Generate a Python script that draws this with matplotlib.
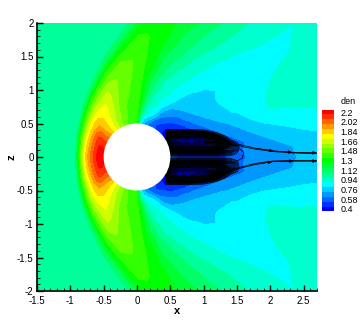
import numpy as np
import matplotlib
matplotlib.use("Agg")
import matplotlib.pyplot as plt
from matplotlib.patches import Circle
from matplotlib.ticker import MultipleLocator

plt.rcParams['font.family'] = ['Liberation Sans', 'DejaVu Sans']
plt.rcParams['axes.unicode_minus'] = False

# density, on rays behind the sphere (upper half; lower half mirrors it)
radius = [.5,.55,.6,.65,.7,.75,.8,.85,.9,.95,1,1.1,1.2,1.35,1.5,1.65,1.8,2,2.25,2.5,2.75,3,3.5]
theta_deg = [0,4,8,12,16,20,25,30,35,40,45,50,55,60,65,70,75,80,85,90]
den = [
 [.6,.56,.53,.51,.5,.49,.48,.48,.48,.49,.49,.5,.51,.535,.59,.63,.65,.675,.7,.725,.74,.76,.78],
 [.58,.55,.52,.5,.49,.48,.47,.47,.47,.47,.48,.49,.51,.54,.6,.64,.66,.68,.705,.735,.76,.78,.8],
 [.56,.52,.49,.47,.45,.44,.44,.44,.44,.44,.44,.46,.48,.52,.58,.63,.67,.715,.75,.78,.805,.83,.85],
 [.53,.48,.45,.42,.4,.4,.4,.4,.4,.41,.41,.42,.44,.57,.645,.69,.725,.77,.805,.84,.86,.88,.9],
 [.5,.46,.42,.4,.4,.4,.4,.4,.4,.4,.42,.49,.575,.66,.69,.73,.78,.825,.85,.875,.9,.93,.94],
 [.46,.42,.4,.4,.4,.4,.4,.4,.41,.43,.48,.57,.625,.68,.73,.77,.825,.885,.91,.93,.94,.95,.95],
 [.41,.4,.4,.4,.4,.4,.41,.43,.445,.53,.57,.63,.675,.74,.79,.82,.85,.88,.91,.925,.93,.94,.95],
 [.42,.4,.4,.41,.42,.43,.445,.5,.56,.6,.625,.675,.725,.765,.805,.83,.85,.875,.89,.91,.93,.94,.95],
 [.42,.4,.41,.425,.445,.48,.52,.55,.59,.63,.67,.72,.75,.785,.815,.83,.845,.86,.87,.88,.89,.915,.94],
 [.43,.42,.43,.46,.5,.52,.55,.59,.64,.67,.705,.74,.76,.78,.8,.815,.84,.855,.865,.875,.885,.89,.92],
 [.46,.44,.445,.47,.51,.545,.58,.62,.665,.7,.725,.755,.775,.795,.815,.83,.85,.875,.9,.925,.945,.96,.96],
 [.49,.47,.5,.53,.56,.59,.63,.66,.695,.725,.74,.77,.795,.83,.855,.875,.895,.92,.955,.975,1.0,1.01,1.01],
 [.52,.5,.53,.565,.6,.64,.67,.7,.73,.77,.8,.825,.85,.88,.9,.93,.955,.99,1.03,1.06,1.08,1.08,1.08],
 [.56,.53,.56,.6,.65,.685,.715,.78,.815,.835,.85,.875,.89,.925,.955,.98,1.01,1.05,1.09,1.11,1.12,1.13,1.13],
 [.58,.58,.62,.7,.76,.805,.825,.85,.865,.885,.9,.925,.945,.97,1.01,1.06,1.09,1.125,1.165,1.18,1.19,1.19,1.19],
 [.6,.64,.715,.8,.84,.875,.905,.92,.935,.945,.955,.97,.985,1.05,1.085,1.125,1.155,1.19,1.23,1.2,1.1,1.03,1.03],
 [.66,.71,.78,.83,.88,.91,.935,.955,.97,.985,1.0,1.04,1.075,1.125,1.16,1.2,1.245,1.27,1.27,1.22,1.07,1.03,1.03],
 [.72,.76,.86,.93,.985,1.01,1.05,1.075,1.1,1.12,1.135,1.155,1.195,1.255,1.29,1.31,1.32,1.32,1.27,1.1,1.03,1.03,1.03],
 [.95,.98,1.0,1.09,1.165,1.2,1.23,1.255,1.27,1.28,1.295,1.31,1.325,1.34,1.35,1.35,1.35,1.33,1.2,1.05,1.03,1.03,1.03],
 [1.33,1.35,1.37,1.385,1.39,1.395,1.4,1.405,1.41,1.41,1.415,1.42,1.42,1.42,1.41,1.4,1.36,1.18,1.05,1.03,1.03,1.03,1.03],
]

# density in front of the sphere: rays carry the shock-edge radius, samples sit at fractions of the gap
front_theta_deg = [90,100,110,120,130,140,150,160,170,180]
front_shock_r = [2.2,1.81,1.54,1.33,1.19,1.09,1.01,.965,.935,.93]
front_frac = [0,.1,.2,.3,.4,.5,.6,.7,.8,.85,.9,1,1.1,6]
front_den = [
 [1.33,1.38,1.40,1.41,1.415,1.42,1.42,1.39,1.31,1.24,1.15,1.05,1.03,1.03],
 [1.38,1.40,1.42,1.44,1.45,1.46,1.47,1.44,1.33,1.26,1.16,1.05,1.03,1.03],
 [1.48,1.49,1.51,1.53,1.55,1.57,1.58,1.5,1.37,1.28,1.18,1.06,1.03,1.03],
 [1.6,1.61,1.63,1.66,1.69,1.7,1.66,1.54,1.4,1.31,1.2,1.06,1.03,1.03],
 [1.75,1.75,1.76,1.77,1.78,1.76,1.69,1.57,1.42,1.33,1.22,1.06,1.03,1.03],
 [1.9,1.89,1.88,1.88,1.88,1.83,1.73,1.6,1.42,1.33,1.22,1.06,1.03,1.03],
 [2.02,2.03,2.05,2.06,1.98,1.87,1.76,1.62,1.44,1.35,1.24,1.06,1.03,1.03],
 [2.12,2.13,2.14,2.08,2.0,1.9,1.79,1.66,1.46,1.36,1.25,1.06,1.03,1.03],
 [2.15,2.2,2.18,2.1,2.02,1.93,1.83,1.69,1.47,1.37,1.25,1.06,1.03,1.03],
 [2.15,2.23,2.2,2.12,2.04,1.95,1.84,1.7,1.48,1.38,1.26,1.06,1.03,1.03],
]

# stream function of the wake eddies (upper half)
psi_x = [.42,.5,.6,.8,1.0,1.2,1.3,1.4,1.55,1.7]
psi_z = [0,.05,.1,.16,.22,.28,.34,.38,.42]
psi = [
 [0,0,0,0,0,0,0,0,0,0],
 [.1,.12,.12,.12,.12,.12,.1,.08,0,0],
 [.3,.45,.45,.45,.45,.4,.3,.18,0,0],
 [.5,.85,.75,.65,.7,.8,.5,.22,0,0],
 [.5,1.0,.85,.75,.8,.95,.5,.1,0,0],
 [.5,.95,.8,.7,.7,.45,.12,0,0,0],
 [.3,.5,.5,.45,.4,.08,0,0,0,0],
 [.1,.12,.12,.12,.08,0,0,0,0,0],
 [0,0,0,0,0,0,0,0,0,0],
]

# wake tail streamlines
tail_up_x = [1.2,1.43,1.6,1.79,2.05,2.33,2.7]
tail_up_z = [.3,.22,.17,.13,.09,.07,.06]
tail_up2_z = [.27,.2,.15,.115,.08,.06,.05]
tail_lo_x = [1.2,1.54,1.78,2.03,2.35,2.7]
tail_lo_z = [-.3,-.17,-.11,-.07,-.06,-.06]
tail_lo2_z = [-.27,-.155,-.095,-.06,-.05,-.05]
closure_x = [1.35,1.5,1.6,1.58,1.45,1.3]
closure_z = [.2,.16,.07,-.02,-.08,-.1]

# contour levels / colour bar
levels = [.4,.49,.58,.67,.76,.85,.94,1.03,1.12,1.21,1.3,1.39,1.48,1.57,1.66,1.75,1.84,1.93,2.02,2.11,2.2]
bar_ticks = [.4,.58,.76,.94,1.12,1.3,1.48,1.66,1.84,2.02,2.2]
bar_labels = ['0.4','0.58','0.76','0.94','1.12','1.3','1.48','1.66','1.84','2.02','2.2']
x_ticks = [-1.5,-1,-.5,0,.5,1,1.5,2,2.5]
x_labels = ['-1.5','-1','-0.5','0','0.5','1','1.5','2','2.5']
z_ticks = [-2,-1.5,-1,-.5,0,.5,1,1.5,2]
z_labels = ['-2','-1.5','-1','-0.5','0','0.5','1','1.5','2']

W, H = 361, 321
fig = plt.figure(figsize=(W/100, H/100), dpi=100)
ax = fig.add_axes([37/W, (H-291)/H, 280/W, 268/H])

lv = np.array(levels)
edges = np.r_[lv - .045, lv[-1] + .045]
cmap = matplotlib.colors.LinearSegmentedColormap.from_list(
    'tec', ['#0000ff', '#00ffff', '#00ff00', '#ffff00', '#ff0000'])
colors = [cmap((v - lv[0]) / (lv[-1] - lv[0])) for v in lv]

# wake side
D = np.array(den)
t = np.radians(theta_deg)
t_full = np.r_[-t[:0:-1], t]
D_full = np.vstack([D[:0:-1], D])
rr = np.array(radius)
ax.contourf(np.outer(np.cos(t_full), rr), np.outer(np.sin(t_full), rr), D_full,
            levels=edges, colors=colors, antialiased=False)

# front side
Df = np.array(front_den)
tf = np.radians(front_theta_deg)
tf_full = np.r_[tf, 2*np.pi - tf[-2::-1]]
Df_full = np.vstack([Df, Df[-2::-1]])
rs = np.array(front_shock_r)
rs_full = np.r_[rs, rs[-2::-1]]
RF = .5 + np.outer(rs_full - .5, np.array(front_frac))
ax.contourf(RF * np.cos(tf_full)[:, None], RF * np.sin(tf_full)[:, None], Df_full,
            levels=edges, colors=colors, antialiased=False)

P = np.array(psi)
pz = np.array(psi_z)
px = np.array(psi_x)
stream_lv = np.linspace(.03, .98, 48)
ax.contour(px, pz, P, levels=stream_lv, colors='k', linewidths=.5)
ax.contour(px, -pz, P, levels=stream_lv, colors='k', linewidths=.5)
for xs, zs in [(tail_up_x, tail_up_z), (tail_up_x, tail_up2_z), (tail_lo_x, tail_lo_z),
               (tail_lo_x, tail_lo2_z), (closure_x, closure_z)]:
    ax.plot(xs, zs, color='k', lw=.55)
for xs, zs in [(tail_up_x, tail_up_z), (tail_lo_x, tail_lo_z)]:
    for i in range(len(xs) - 3, len(xs)):
        ax.annotate('', xy=(xs[i], zs[i]), xytext=(xs[i-1], zs[i-1]),
                    arrowprops=dict(arrowstyle='-|>,head_length=.25,head_width=.1', color='k', lw=.4,
                                    shrinkA=0, shrinkB=0), annotation_clip=True)

ax.add_patch(Circle((0, 0), .5, fc='white', ec='none', zorder=5))

ax.set_xlim(-1.5, 2.7)
ax.set_ylim(-2, 2)
for s in ('top', 'right'):
    ax.spines[s].set_visible(False)
for s in ('left', 'bottom'):
    ax.spines[s].set_linewidth(1.2)
ax.set_xticks(x_ticks, x_labels)
ax.set_yticks(z_ticks, z_labels)
ax.xaxis.set_minor_locator(MultipleLocator(.1))
ax.yaxis.set_minor_locator(MultipleLocator(.1))
ax.tick_params(which='major', direction='in', length=4.5, width=1.0, labelsize=7, pad=2.5)
ax.tick_params(which='minor', direction='in', length=2.2, width=.6)
ax.tick_params(axis='x', which='major', pad=3.5)
ax.set_xlabel('x', fontweight='bold', fontsize=8, labelpad=0)
ax.set_ylabel('z', fontweight='bold', fontsize=8, labelpad=0)

cax = fig.add_axes([322/W, (H-211.4)/H, 12/W, 101.8/H])
cax.pcolormesh([0, 1], edges, np.array(levels)[:, None], cmap=matplotlib.colors.ListedColormap(colors),
               norm=matplotlib.colors.BoundaryNorm(edges, len(colors)))
cax.set_xticks([])
cax.yaxis.tick_right()
cax.set_yticks(bar_ticks, bar_labels)
cax.tick_params(length=0, labelsize=6.5, pad=4.5)
for s in cax.spines.values():
    s.set_visible(False)
fig.text(341/W, (H-101)/H, 'den', fontsize=6.5, ha='left', va='center')

fig.savefig('out.png', dpi=100)
